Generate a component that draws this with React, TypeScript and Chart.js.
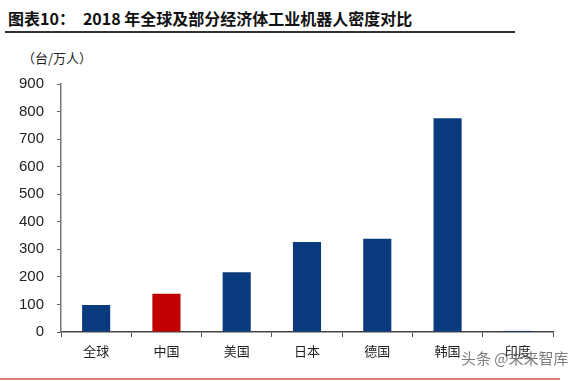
import React, { useEffect, useRef } from "react";
import { Chart, registerables } from "chart.js";

Chart.register(...registerables);

const categories = ["全球", "中国", "美国", "日本", "德国", "韩国", "印度"];
const density = [98, 139, 217, 327, 338, 776, 4];
const barColors = ["#083a7d", "#c00000", "#083a7d", "#083a7d", "#083a7d", "#083a7d", "#083a7d"];
const yTicks = [0, 100, 200, 300, 400, 500, 600, 700, 800, 900];
const title = "图表10：";
const titleRest = "2018 年全球及部分经济体工业机器人密度对比";
const unitLabel = "（台/万人）";
const watermark = "头条 @未来智库";

export default function App() {
  const ref = useRef<HTMLCanvasElement>(null);
  useEffect(() => {
    const chart = new Chart(ref.current!, {
      type: "bar",
      data: {
        labels: categories,
        datasets: [
          {
            data: density,
            backgroundColor: barColors,
            categoryPercentage: 1,
            barPercentage: 0.4,
          },
        ],
      },
      options: {
        animation: false,
        responsive: false,
        devicePixelRatio: 1,
        layout: { padding: { left: 0, right: 25, top: 84, bottom: 0 } },
        plugins: { legend: { display: false }, tooltip: { enabled: false } },
        scales: {
          x: {
            grid: { display: true, drawOnChartArea: false, drawTicks: true, tickLength: 5, color: "#555", offset: true },
            border: { display: true, color: "#444", width: 1.5 },
            ticks: { color: "#222", font: { family: "'Noto Sans CJK SC'", size: 13 }, padding: 6, autoSkip: false, maxRotation: 0 },
            afterFit: (s: any) => { s.height = 49; },
          },
          y: {
            min: 0,
            max: 900,
            afterBuildTicks: (s: any) => { s.ticks = yTicks.map((v) => ({ value: v })); },
            grid: { display: true, drawOnChartArea: false, drawTicks: true, tickLength: 4, color: "#666" },
            border: { display: true, color: "#777", width: 1.5 },
            ticks: { color: "#222", font: { family: "'Liberation Sans', Arial", size: 15 }, padding: 13 },
            afterFit: (s: any) => { s.width = 61; },
          },
        },
      },
    });
    return () => chart.destroy();
  }, []);
  return (
    <div style={{ position: "absolute", left: 0, top: 0, width: 578, height: 381, background: "#fff", overflow: "hidden" }}>
      <div style={{ position: "absolute", left: 8, top: 6, fontFamily: "'Noto Sans CJK SC'", fontWeight: 700, fontSize: 16, color: "#111", whiteSpace: "nowrap" }}>
        <span>{title}</span>
        <span style={{ marginLeft: 8 }}>{titleRest}</span>
      </div>
      <div style={{ position: "absolute", left: 5, top: 31, width: 510, height: 1.5, background: "#333" }} />
      <div style={{ position: "absolute", left: 22, top: 48, fontFamily: "'Noto Sans CJK SC'", fontSize: 13, color: "#222", whiteSpace: "nowrap" }}>{unitLabel}</div>
      <canvas ref={ref} width={578} height={381} style={{ position: "absolute", left: 0, top: 0 }} />
      <div style={{ position: "absolute", left: 0, top: 378, width: 560, height: 2, background: "#d9807a" }} />
      <div style={{ position: "absolute", left: 461, top: 347, fontFamily: "'Noto Sans CJK SC'", fontSize: 15, color: "rgba(90,90,90,0.8)", whiteSpace: "nowrap" }}>{watermark}</div>
    </div>
  );
}
